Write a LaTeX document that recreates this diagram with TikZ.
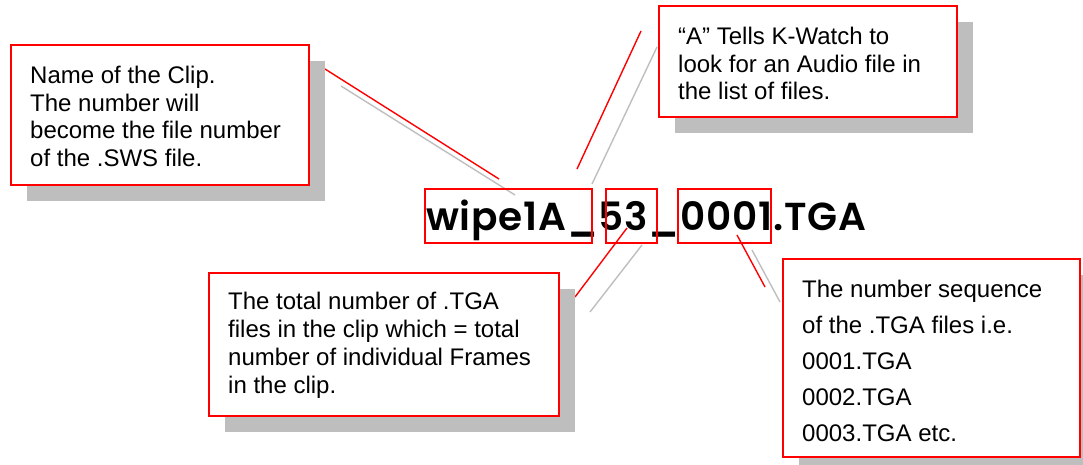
\documentclass[tikz,border=0pt]{standalone}
\usepackage{fontspec}
\setmainfont{Liberation Sans}
\newfontfamily\titlefont{Poppins}[BoldFont={Poppins SemiBold}, LetterSpace=2]
\usepackage{tikz}
\usetikzlibrary{positioning, calc, shadows}

\definecolor{shadowgray}{RGB}{190,190,190}

\tikzset{
  callout/.style = {draw=red, line width=1.8pt, fill=white, anchor=north west,
    drop shadow={shadow xshift=16pt, shadow yshift=-16pt, fill=shadowgray, opacity=1}},
  note/.style = {inner sep=0pt, align=left, font=\fontsize{24}{27.5}\selectfont},
  partbox/.style = {draw=red, line width=1.8pt, anchor=north west, inner sep=0pt},
  leader/.style = {red, line width=1.4pt},
  leadershadow/.style = {shadowgray, line width=1.4pt}
}

\begin{document}
\begin{tikzpicture}[x=1pt, y=-1pt]
  \useasboundingbox (0,0) rectangle (1083,465);

  % leader shadows
  \coordinate (g1a) at (341,86);  \coordinate (g1b) at (515,195);
  \coordinate (g2a) at (657,47);  \coordinate (g2b) at (592,184);
  \coordinate (g3a) at (642,245); \coordinate (g3b) at (590,312);
  \coordinate (g4a) at (752,250); \coordinate (g4b) at (780,302);
  \draw[leadershadow] (g1a) -- (g1b);
  \draw[leadershadow] (g2a) -- (g2b);
  \draw[leadershadow] (g3a) -- (g3b);
  \draw[leadershadow] (g4a) -- (g4b);

  % the file name
  \node[anchor=base west, inner sep=0pt, font=\titlefont\bfseries\fontsize{39}{39}\selectfont]
    at (426,230) (fname) {wipe1A\_53\_0001.TGA};
  \node[partbox, minimum width=167pt, minimum height=54pt] at (424,188) (clippart) {};
  \node[partbox, minimum width=51pt, minimum height=54pt] at (605,188) (countpart) {};
  \node[partbox, minimum width=93pt, minimum height=54pt] at (677,188) (seqpart) {};

  % leaders
  \coordinate (r1a) at (325,69);  \coordinate (r1b) at (499,179);
  \coordinate (r2a) at (641,31);  \coordinate (r2b) at (577,169);
  \coordinate (r3a) at (627,228); \coordinate (r3b) at (575,297);
  \coordinate (r4a) at (737,235); \coordinate (r4b) at (765,287);
  \draw[leader] (r1a) -- (r1b);
  \draw[leader] (r2a) -- (r2b);
  \draw[leader] (r3a) -- (r3b);
  \draw[leader] (r4a) -- (r4b);

  % callouts
  \node[callout, minimum width=298pt, minimum height=140pt] at (10,44) (clipbox) {};
  \node[note, below right=22pt and 20pt of clipbox.north west] (cliptext)
    {Name of the Clip.\\The number will\\become the file number\\of the .SWS file.};

  \node[callout, minimum width=298pt, minimum height=111pt] at (658,5) (audiobox) {};
  \node[note, below right=22pt and 20pt of audiobox.north west] (audiotext)
    {“A” Tells K-Watch to\\look for an Audio file in\\the list of files.};

  \node[callout, minimum width=350pt, minimum height=143pt] at (208,272) (countbox) {};
  \node[note, font=\fontsize{24}{28}\selectfont, below right=20pt and 20pt of countbox.north west] (counttext)
    {The total number of .TGA\\files in the clip which = total\\number of individual Frames\\in the clip.};

  \node[callout, minimum width=297pt, minimum height=198pt] at (782,258) (seqbox) {};
  \node[note, font=\fontsize{24}{36}\selectfont, below right=22pt and 20pt of seqbox.north west] (seqtext)
    {The number sequence\\of the .TGA files i.e.\\0001.TGA\\0002.TGA\\0003.TGA etc.};
\end{tikzpicture}
\end{document}
